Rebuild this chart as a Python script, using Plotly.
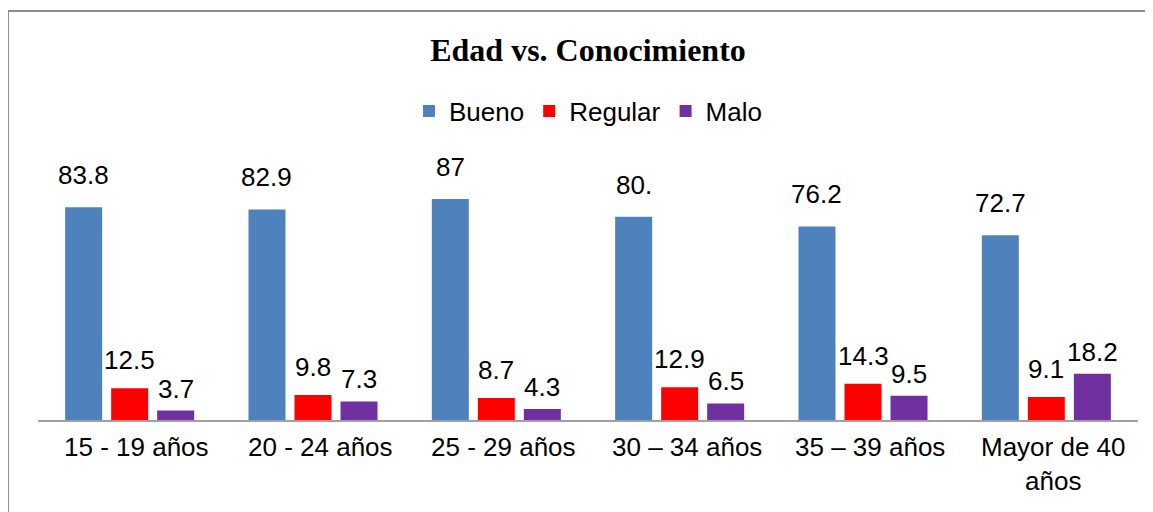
import plotly.graph_objects as go

# datos
categorias = ["15 - 19 años", "20 - 24 años", "25 - 29 años",
              "30 – 34 años", "35 – 39 años", "Mayor de 40<br>años"]
bueno = [83.8, 82.9, 87, 80, 76.2, 72.7]
regular = [12.5, 9.8, 8.7, 12.9, 14.3, 9.1]
malo = [3.7, 7.3, 4.3, 6.5, 9.5, 18.2]
etiquetas_bueno = ["83.8", "82.9", "87", "80.", "76.2", "72.7"]
etiquetas_regular = ["12.5", "9.8", "8.7", "12.9", "14.3", "9.1"]
etiquetas_malo = ["3.7", "7.3", "4.3", "6.5", "9.5", "18.2"]

FUENTE = "Liberation Sans, Arial, sans-serif"

series = [
    ("Bueno", bueno, etiquetas_bueno, "#4F81BD", 32),
    ("Regular", regular, etiquetas_regular, "#FF0000", 28),
    ("Malo", malo, etiquetas_malo, "#7030A0", 22),
]

fig = go.Figure()
for nombre, valores, _, color, _ in series:
    fig.add_trace(go.Bar(
        x=categorias, y=valores, name=nombre,
        marker=dict(color=color, line=dict(width=0)),
        offsetgroup=nombre
    ))

# etiquetas de datos (flotan sobre las barras, estilo Excel)
n = len(series)
ancho_slot = (1 - 0.247) / n
for s, (nombre, valores, textos, color, desp) in enumerate(series):
    for i, (v, t) in enumerate(zip(valores, textos)):
        fig.add_annotation(
            x=i - (1 - 0.247) / 2 + ancho_slot * (s + 0.5), y=v,
            xref="x", yref="y",
            text=t, showarrow=False,
            yanchor="middle", yshift=desp,
            font=dict(size=26, color="#000000", family=FUENTE)
        )

# etiquetas de categoría (algo corridas a la derecha, como en Excel)
for i, cat in enumerate(categorias):
    fig.add_annotation(
        x=i, y=0, xref="x", yref="paper",
        text=cat, showarrow=False,
        xanchor="center", yanchor="top", xshift=7, yshift=-10,
        font=dict(size=26, color="#000000", family=FUENTE)
    )

# marco gris (solo arriba e izquierda visibles)
fig.add_shape(type="rect", xref="paper", yref="paper",
              x0=-0.0273, x1=1.2, y0=-0.6, y1=1.61,
              line=dict(color="#8C8C8C", width=2))

# la página tiene 8 px de margen en el body
fig.update_layout(
    width=1145, height=504,
    title=dict(
        text="<b>Edad vs. Conocimiento</b>",
        x=0.5, xanchor="center", xref="paper",
        y=1 - 42 / 504, yanchor="middle", yref="container",
        font=dict(size=32, color="#000000", family="Liberation Serif, Times New Roman, serif")
    ),
    barmode="group", bargap=0.247, bargroupgap=0.196,
    plot_bgcolor="white", paper_bgcolor="white",
    font=dict(family=FUENTE, color="#000000", size=26),
    legend=dict(
        orientation="h", x=0.5, xanchor="center",
        y=1.2165, yanchor="middle",
        font=dict(size=26), itemwidth=30,
        bgcolor="rgba(0,0,0,0)"
    ),
    margin=dict(l=30, r=15, t=158, b=92, autoexpand=False),
    xaxis=dict(
        type="category", showline=True, linecolor="#A0A0A0", linewidth=2,
        ticks="", showgrid=False, showticklabels=False, automargin=False
    ),
    yaxis=dict(range=[0, 100], visible=False, showgrid=False, zeroline=False,
               automargin=False),
    showlegend=True
)

fig.write_html("out.html")
